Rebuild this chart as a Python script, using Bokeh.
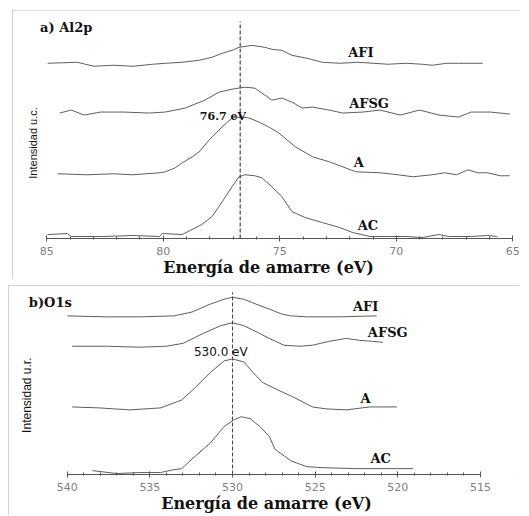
import numpy as np
from bokeh.plotting import figure
from bokeh.layouts import column
from bokeh.models import Range1d, FixedTicker
from bokeh.core.properties import value
from bokeh.embed import file_html
from bokeh.resources import INLINE

# ---------------- Panel a) Al2p : binding energy (eV) vs intensity (a.u.) ----------------
al_peak = 76.7
al_major = [85, 80, 75, 70, 65]
al_minor = list(range(65, 86))

al_afi_x = [84.96, 83.70, 82.98, 82.14, 81.30, 80.46, 79.91, 79.19, 78.46, 77.91, 77.48, 77.05, 76.75,
            76.20, 75.64, 75.34, 74.91, 74.48, 73.83, 73.17, 72.43, 71.65, 71.00, 70.35, 69.58, 68.88,
            68.46, 67.83, 67.33, 66.67, 66.29]
al_afi_y = [176, 177, 173, 174, 173, 175, 176, 177, 179, 182, 186, 189, 192,
            194, 192, 190, 189, 184, 181, 177, 176, 177, 176, 175, 176, 175,
            174, 176, 176, 176, 176]

al_afsg_x = [84.45, 83.95, 83.40, 82.69, 81.72, 80.59, 79.91, 79.06, 78.21, 77.61, 77.05, 76.50, 76.07,
             75.64, 75.34, 74.91, 74.48, 74.04, 73.61, 72.87, 72.30, 71.43, 70.70, 69.83, 69.00, 68.17,
             67.33, 66.79, 65.96, 65.13]
al_afsg_y = [126, 129, 124, 127, 127, 126, 127, 131, 139, 147, 150, 152, 151,
             144, 139, 141, 137, 131, 132, 129, 126, 127, 129, 124, 129, 124,
             122, 127, 127, 125]

al_a_x = [84.54, 83.28, 82.14, 81.30, 80.17, 79.91, 79.49, 79.19, 78.76, 78.46, 78.03, 77.48, 77.05,
          76.62, 76.32, 75.90, 75.47, 75.04, 74.33, 73.59, 72.87, 72.30, 71.74, 70.70, 69.92, 69.29,
          68.46, 67.92, 67.42, 66.92, 66.50, 66.08, 65.54, 65.13]
al_a_y = [65, 64, 65, 64, 66, 67, 71, 76, 82, 87, 99, 112, 121,
          122, 121, 117, 112, 106, 92, 82, 77, 72, 67, 66, 64, 62,
          64, 66, 64, 69, 66, 66, 63, 63]

al_ac_x = [84.96, 84.12, 83.95, 82.56, 81.30, 80.17, 80.04, 79.19, 78.35, 77.91, 77.61, 77.05, 76.75,
           76.50, 76.07, 75.77, 75.34, 74.91, 74.48, 73.91, 73.17, 72.43, 71.87, 71.13, 70.26, 69.58,
           68.88, 68.17, 67.75, 66.79, 66.08, 65.67]
al_ac_y = [4, 5, 2, 2, 3, 2, 5, 4, 14, 22, 32, 52, 62,
           64, 63, 61, 52, 42, 27, 21, 16, 11, 6, 2, 2, 2,
           1, 4, 2, 2, 3, 2]

# ---------------- Panel b) O1s ----------------
o_peak = 530.0
o_major = [540, 535, 530, 525, 520, 515]
o_minor = list(range(515, 541))

o_afi_x = [540.0, 537.62, 535.61, 533.53, 532.44, 531.35, 530.51, 530.0, 529.32, 528.58, 527.78,
           527.05, 526.48, 525.51, 523.54, 521.28]
o_afi_y = [162, 161, 161, 162, 166, 174, 179, 181, 179, 174, 169, 164, 162, 161, 161, 162]

o_afsg_x = [539.70, 537.62, 535.61, 534.00, 532.98, 531.79, 530.71, 530.0, 529.32, 528.58, 527.78,
            526.88, 525.91, 525.17, 524.15, 523.11, 522.32, 521.52, 520.91]
o_afsg_y = [131, 131, 130, 131, 134, 144, 152, 155, 152, 146, 139, 132, 131, 132, 136, 139, 137, 136, 135]

o_a_x = [539.70, 538.05, 536.22, 534.36, 533.08, 532.24, 531.35, 530.51, 530.0, 529.32, 528.75,
         528.18, 527.22, 526.31, 525.17, 524.33, 523.11, 521.71, 520.06]
o_a_y = [69, 68, 66, 68, 76, 89, 104, 116, 118, 115, 104, 94, 86, 79, 69, 67, 66, 69, 69]

o_ac_x = [538.48, 537.01, 535.61, 534.36, 533.53, 533.08, 532.24, 531.35, 530.51, 529.89, 529.49,
          528.92, 528.35, 527.78, 527.44, 526.48, 525.51, 524.57, 522.62, 520.49, 519.09]
o_ac_y = [4, 1, 2, 2, 5, 6, 19, 32, 49, 56, 59, 57, 49, 39, 26, 14, 8, 7, 6, 6, 6]

CURVE = "#5e5e5e"
TEXT = "#111111"
SERIF = value("DejaVu Serif")
SANS = value("Liberation Sans")
BORDER = {"outline": "1px solid #c4c4c4", "outline-offset": "-1px"}


def make_panel(width, height, x_range, y_range, major, minor, borders, margin):
    left, right, top, bottom = borders
    p = figure(width=width, height=height, x_range=x_range, y_range=y_range,
               output_backend="svg", toolbar_location=None, y_axis_location=None,
               min_border_left=left, min_border_right=right, min_border_top=top,
               min_border_bottom=bottom, styles=BORDER, margin=margin)
    p.grid.visible = False
    p.outline_line_color = None
    p.background_fill_color = "white"
    p.border_fill_color = "white"
    ax = p.xaxis[0]
    ax.ticker = FixedTicker(ticks=major, minor_ticks=minor)
    ax.bounds = (min(major), max(major))
    ax.axis_line_color = "#555555"
    ax.major_tick_line_color = "#555555"
    ax.minor_tick_line_color = "#555555"
    ax.major_tick_in = 3
    ax.major_tick_out = 3
    ax.minor_tick_in = 2
    ax.minor_tick_out = 1
    ax.major_label_text_font = "DejaVu Sans"
    ax.major_label_text_font_size = "11px"
    ax.major_label_text_color = "#808080"
    ax.major_label_standoff = 5
    ax.axis_label = "Energía de amarre (eV)"
    ax.axis_label_text_font = "DejaVu Serif"
    ax.axis_label_text_font_style = "bold"
    ax.axis_label_text_font_size = "16px"
    ax.axis_label_text_color = TEXT
    ax.axis_label_standoff = 0
    return p


def curves(p, series):
    for xs, ys in series:
        p.line(xs, ys, line_color=CURVE, line_width=1.0)


def labels(p, xs, ys, texts, size, bold=True, font=SERIF, align="center"):
    p.text(x=xs, y=ys, text=texts, text_font=font, text_font_size=size,
           text_font_style="bold" if bold else "normal", text_color=TEXT,
           text_align=align, text_baseline="middle")


# ---- panel a
pa = make_panel(508, 269, Range1d(86.30, 64.67), Range1d(0, 229), al_major, al_minor,
                (0, 0, 0, 40), (10, 0, 0, 12))
curves(pa, [(al_afi_x, al_afi_y), (al_afsg_x, al_afsg_y), (al_a_x, al_a_y), (al_ac_x, al_ac_y)])
pa.segment(x0=[al_peak], y0=[0], x1=[al_peak], y1=[218], line_color="#444444",
           line_width=1.2, line_dash="4 2")
labels(pa, [71.52, 71.17, 71.61, 71.22], [187, 136, 76, 13], ["AFI", "AFSG", "A", "AC"], "13px")
labels(pa, [77.44], [123], ["76.7 eV"], "11px")
labels(pa, [85.29], [212], ["a) Al2p"], "13px", align="left")
pa.text(x=[85.6], y=[96], text=["Intensidad u.c."], angle=np.pi / 2, text_font=SANS,
        text_font_size="11px", text_color=TEXT, text_align="center", text_baseline="middle")

# ---- panel b
pb = make_panel(512, 230, Range1d(543.31, 512.58), Range1d(0, 192), o_major, o_minor,
                (4, 0, 1, 40), (6, 0, 0, 8))
curves(pb, [(o_afi_x, o_afi_y), (o_afsg_x, o_afsg_y), (o_a_x, o_a_y), (o_ac_x, o_ac_y)])
pb.segment(x0=[o_peak], y0=[0], x1=[o_peak], y1=[186], line_color="#444444",
           line_width=1.0, line_dash="4 2")
labels(pb, [521.95, 520.61, 521.95, 521.04], [172, 145, 78, 16], ["AFI", "AFSG", "A", "AC"], "13px")
labels(pb, [530.71], [125], ["530.0 eV"], "12px", bold=False, font=value("DejaVu Sans"))
labels(pb, [542.32], [176], ["b)O1s"], "13px", align="left")
pb.text(x=[542.45], y=[81], text=["Intensidad u.r."], angle=np.pi / 2, text_font=SANS,
        text_font_size="12px", text_color=TEXT, text_align="center", text_baseline="middle")

layout = column(pa, pb)
open("out.html", "w").write(file_html(layout, INLINE))
